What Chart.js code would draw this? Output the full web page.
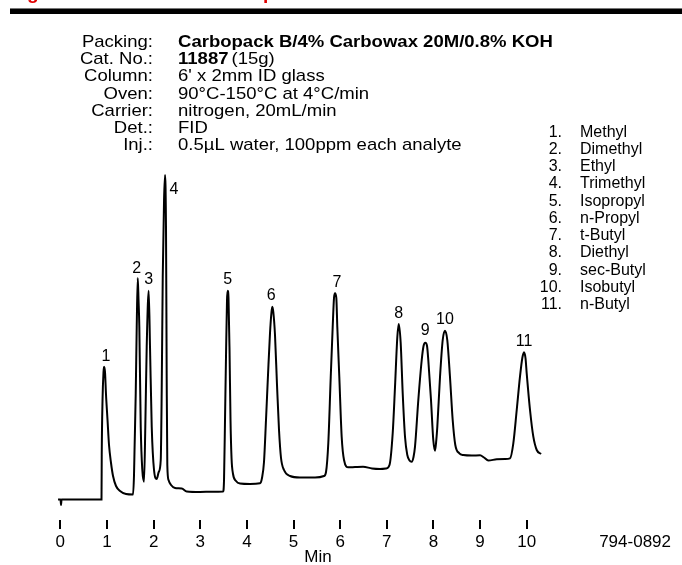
<!DOCTYPE html>
<html><head><meta charset="utf-8">
<script src="https://cdn.jsdelivr.net/npm/chart.js@4.4.0/dist/chart.umd.min.js"></script>
<style>html,body{margin:0;padding:0;background:#fff;}canvas{display:block;}</style>
</head><body>
<canvas id="c" width="682" height="565"></canvas>
<script>
// ---- data ----
const timeMin = [
-0.049, 0.004, 0.015, 0.026,
0.883, 0.888, 0.905, 0.926, 0.937, 0.958, 0.980, 1.012, 1.044, 1.087, 1.130, 1.194, 1.280, 1.409, 1.559,
1.580, 1.591, 1.617, 1.638, 1.660, 1.677, 1.694, 1.724, 1.758, 1.795,
1.822, 1.852, 1.895, 1.923, 1.960, 2.009, 2.067,
2.110, 2.153, 2.174, 2.196, 2.224, 2.245, 2.266, 2.281, 2.294, 2.320, 2.374, 2.459, 2.603, 2.710, 2.995, 3.253, 3.489,
3.510, 3.531, 3.553, 3.574, 3.589, 3.606, 3.628, 3.649, 3.671, 3.703, 3.767, 3.853, 4.067, 4.281,
4.324, 4.367, 4.410, 4.453, 4.496, 4.528, 4.545, 4.567, 4.603, 4.646, 4.689, 4.732, 4.796, 4.925, 5.139, 5.461, 5.654,
5.697, 5.746, 5.798, 5.840, 5.868, 5.890, 5.918, 5.939, 5.982, 6.033, 6.083, 6.175, 6.319, 6.490, 6.683, 6.855, 6.983, 7.058,
7.127, 7.176, 7.226, 7.256, 7.298, 7.341, 7.391, 7.440, 7.487, 7.534, 7.573,
7.605, 7.676, 7.749, 7.788, 7.826, 7.863, 7.890, 7.948, 7.997, 8.034,
8.062, 8.083, 8.141, 8.199, 8.248, 8.297, 8.355, 8.413, 8.469, 8.555, 8.641, 8.827, 8.999, 9.085, 9.177, 9.357, 9.535, 9.642,
9.713, 9.786, 9.856, 9.906, 9.942, 9.974, 10.000, 10.071, 10.142, 10.215, 10.307
];
const signal = [
0.5, 0.5, -5, 0.5,
0.5, 45, 100, 128, 133.3, 128, 105, 80, 55, 37, 24, 14, 9, 6, 5.5,
25, 50, 107, 173, 222, 200, 173, 73, 30, 18.3,
73, 153, 209.3, 153, 73, 30, 21,
28, 40, 110, 223, 300, 325, 270, 120, 35, 20, 15, 12, 11.5, 8.5, 8, 8.3, 8.5,
20, 80, 145, 200, 209.3, 202, 150, 80, 42, 26, 19, 16.5, 16, 16.7,
22, 38, 80, 125, 167, 188, 193.3, 188, 165, 115, 70, 42, 30, 24, 22.5, 22.5, 24,
28, 57, 123, 173, 202, 206.7, 202, 173, 123, 63, 40, 32.7, 33, 33.3, 31.5, 31, 31.5, 35,
67, 113, 163, 176, 157, 107, 63, 45, 39.5, 38.3, 43,
53.3, 100, 140, 154, 157.3, 154, 140, 100, 60, 49.3,
60, 73, 123, 160, 169.3, 160, 123, 80, 55, 46.7, 45, 44.5, 44.7, 42.5, 39.5, 40.7, 41, 41.7,
56.7, 90, 123.3, 142, 147.7, 142, 126.7, 90, 63.3, 50, 46
];
const peakNumbers = ['1','2','3','4','5','6','7','8','9','10','11'];
const peakTimes = [0.937, 1.660, 1.895, 2.245, 3.589, 4.545, 5.890, 7.256, 7.826, 8.248, 9.942];
const peakHeights = [133.3, 222, 209.3, 325, 209.3, 193.3, 206.7, 176, 157.3, 169.3, 147.7];
const compoundNames = ['Methyl','Dimethyl','Ethyl','Trimethyl','Isopropyl','n-Propyl','t-Butyl','Diethyl','sec-Butyl','Isobutyl','n-Butyl'];
const xTickValues = [0,1,2,3,4,5,6,7,8,9,10];
const xAxisTitle = 'Min';
const infoLabels = ['Packing:','Cat. No.:','Column:','Oven:','Carrier:','Det.:','Inj.:'];
const infoValues = ['Carbopack B/4% Carbowax 20M/0.8% KOH','11887|(15g)',"6' x 2mm ID glass",'90°C-150°C at 4°C/min','nitrogen, 20mL/min','FID','0.5µL water, 100ppm each analyte'];
const figureTitle = 'Figure 4. Volatile Amines Separation';
const figureCode = '794-0892';

// ---- styling (positions of labels relative to peak apex) ----
const FONT = '"Liberation Sans", Arial, Helvetica, sans-serif';
const labelDx = [2,-1,0,9,0,-1,2,0,0,0,0];
const labelDy = [-10,-9,-11,15,-11,-11,-11,-10,-12,-11,-11];
const INFO_STRETCH = 1.09;

function stretchedText(ctx, text, x, y, align) {
  ctx.save();
  ctx.translate(x, y);
  ctx.scale(INFO_STRETCH, 1);
  ctx.textAlign = align;
  ctx.fillText(text, 0, 0);
  const w = ctx.measureText(text).width * INFO_STRETCH;
  ctx.restore();
  return w;
}

const decor = {
  id: 'decor',
  afterDraw(chart) {
    const ctx = chart.ctx;
    const xs = chart.scales.x, ys = chart.scales.y;
    ctx.save();
    // header
    ctx.fillStyle = '#e00000';
    ctx.font = 'bold 19px ' + FONT;
    ctx.textAlign = 'left'; ctx.textBaseline = 'alphabetic';
    ctx.fillText(figureTitle, 10, -1.2);
    ctx.fillStyle = '#777';
    ctx.fillRect(10, 8, 672, 1);
    ctx.fillStyle = '#000';
    ctx.fillRect(10, 9, 672, 5);
    // info block
    ctx.fillStyle = '#000';
    for (let i = 0; i < infoLabels.length; i++) {
      const y = 47 + i * 17.17;
      ctx.font = '17px ' + FONT;
      stretchedText(ctx, infoLabels[i], 153, y, 'right');
      const v = infoValues[i];
      if (i === 0) {
        ctx.font = 'bold 17px ' + FONT;
        stretchedText(ctx, v, 178, y, 'left');
      } else if (v.indexOf('|') >= 0) {
        const parts = v.split('|');
        ctx.font = 'bold 17px ' + FONT;
        const w = stretchedText(ctx, parts[0], 178, y, 'left');
        ctx.font = '17px ' + FONT;
        stretchedText(ctx, parts[1], 178 + w + 3, y, 'left');
      } else {
        ctx.font = '17px ' + FONT;
        stretchedText(ctx, v, 178, y, 'left');
      }
    }
    // legend of compounds
    ctx.font = '16px ' + FONT;
    for (let i = 0; i < compoundNames.length; i++) {
      const y = 136.7 + i * 17.23;
      ctx.textAlign = 'right';
      ctx.fillText((i + 1) + '.', 562, y);
      ctx.textAlign = 'left';
      ctx.fillText(compoundNames[i], 580, y);
    }
    // peak numbers
    ctx.font = '16px ' + FONT;
    ctx.textAlign = 'center'; ctx.textBaseline = 'middle';
    for (let i = 0; i < peakNumbers.length; i++) {
      const px = xs.getPixelForValue(peakTimes[i]) + labelDx[i];
      const py = ys.getPixelForValue(peakHeights[i]) + labelDy[i];
      ctx.fillText(peakNumbers[i], px, py);
    }
    // figure code
    ctx.font = '17px ' + FONT;
    ctx.textAlign = 'right'; ctx.textBaseline = 'alphabetic';
    ctx.fillText(figureCode, 671, 547);
    ctx.restore();
  }
};

new Chart(document.getElementById('c'), {
  type: 'line',
  data: {
    datasets: [{
      data: timeMin.map((t, i) => ({ x: t, y: signal[i] })),
      borderColor: '#000',
      borderWidth: 2,
      pointRadius: 0,
      fill: false,
      cubicInterpolationMode: 'monotone'
    }]
  },
  options: {
    responsive: false,
    animation: false,
    devicePixelRatio: 1,
    layout: { padding: { left: 51, right: 97, top: 170, bottom: 0 } },
    plugins: { legend: { display: false }, tooltip: { enabled: false } },
    scales: {
      x: {
        type: 'linear',
        min: -0.2,
        max: 11.25,
        afterBuildTicks: s => { s.ticks = xTickValues.map(v => ({ value: v })); },
        afterFit: s => { s.height = 45; },
        ticks: { autoSkip: false, maxRotation: 0, color: '#000', padding: 3,
                 font: { family: FONT, size: 17 }, callback: v => String(v) },
        grid: { drawOnChartArea: false, drawTicks: true, tickLength: 9, lineWidth: 2, color: '#000' },
        border: { display: false },
        title: { display: true, text: xAxisTitle, color: '#000',
                 font: { family: FONT, size: 17 }, padding: { top: 0, bottom: -3 } }
      },
      y: { display: false, min: -20, max: 330 }
    }
  },
  plugins: [decor]
});
</script>
</body></html>
